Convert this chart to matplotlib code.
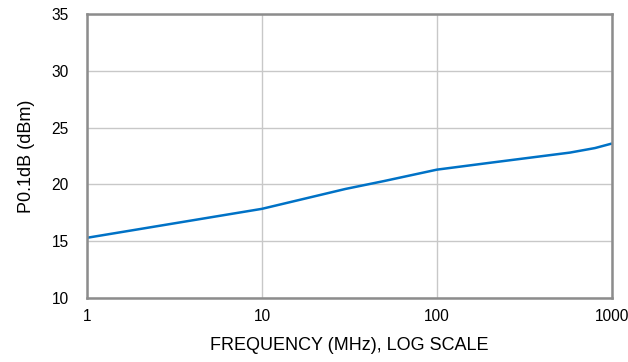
import numpy as np
import matplotlib
matplotlib.use("Agg")
import matplotlib.pyplot as plt
from matplotlib.ticker import FixedLocator, FixedFormatter, NullLocator

plt.rcParams['font.family'] = ['Liberation Sans', 'DejaVu Sans']

# P0.1dB versus frequency
freq_mhz = [1, 10, 30, 50, 100, 200, 575, 800, 1000]
p01db_dbm = [15.3, 17.85, 19.6, 20.3, 21.3, 21.9, 22.8, 23.2, 23.6]

x_ticks = [1, 10, 100, 1000]
x_labels = ["1", "10", "100", "1000"]
y_ticks = [10, 15, 20, 25, 30, 35]

fig = plt.figure(figsize=(6.28, 3.62), dpi=100)
ax = fig.add_axes([0.1385, 0.1768, 0.836, 0.7845])

ax.plot(freq_mhz, p01db_dbm, color="#0072C6", lw=1.8, solid_capstyle="butt")

ax.set_xscale("log")
ax.set_xlim(1, 1000)
ax.set_ylim(10, 35)
ax.xaxis.set_major_locator(FixedLocator(x_ticks))
ax.xaxis.set_major_formatter(FixedFormatter(x_labels))
ax.xaxis.set_minor_locator(NullLocator())
ax.set_yticks(y_ticks)

ax.grid(True, color="#c8c8c8", lw=1.0)
ax.set_axisbelow(True)
for sp in ax.spines.values():
    sp.set_color("#8c8c8c")
    sp.set_linewidth(1.8)

ax.tick_params(length=0, labelsize=11.2, colors="#000000", pad=8)
ax.tick_params(axis="y", pad=13)

ax.set_xlabel("FREQUENCY (MHz), LOG SCALE", fontsize=13, labelpad=9)
ax.set_ylabel("P0.1dB (dBm)", fontsize=13, labelpad=12)

fig.savefig("out.png", dpi=100)
